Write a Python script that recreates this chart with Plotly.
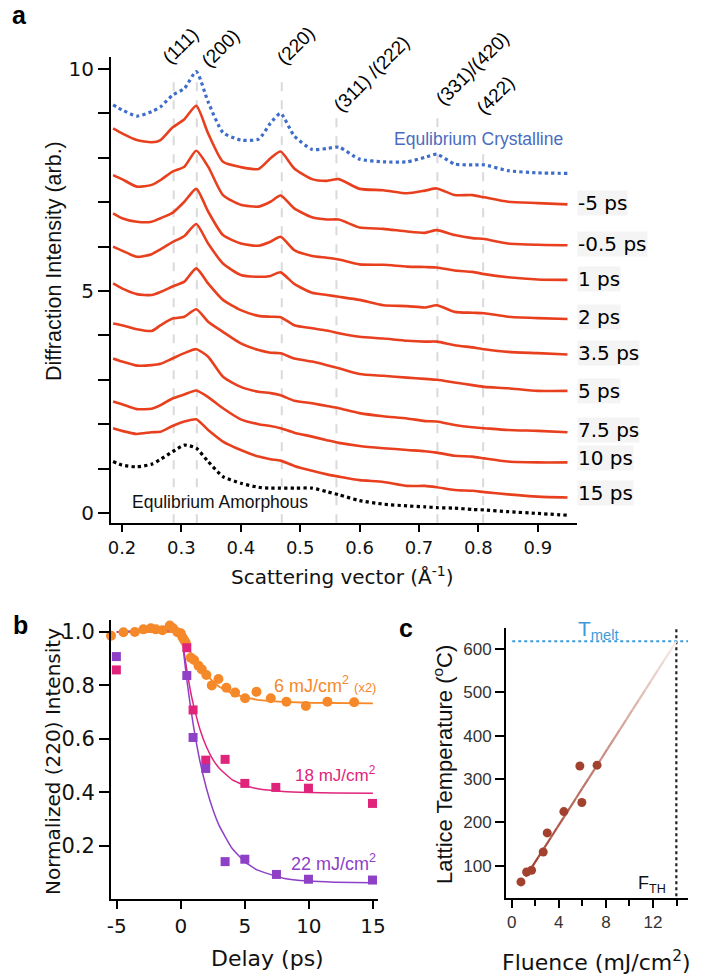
import numpy as np
import plotly.graph_objects as go

# ---------------- Panel a data ----------------
q = [0.185, 0.20, 0.225, 0.25, 0.265, 0.285, 0.305, 0.325, 0.345, 0.37, 0.40, 0.43, 0.45, 0.467,
     0.49, 0.52, 0.545, 0.565, 0.60, 0.64, 0.68, 0.71, 0.73, 0.76, 0.79, 0.81, 0.85, 0.90, 0.95]
crystalline = [9.19, 9.08, 8.94, 9.04, 9.15, 9.41, 9.56, 9.94, 9.26, 8.57, 8.40, 8.42, 8.78, 9.00,
               8.49, 8.19, 8.21, 8.24, 7.97, 7.91, 7.91, 8.01, 8.08, 7.86, 7.84, 7.84, 7.71, 7.66, 7.65]
c_m5 = [8.66, 8.55, 8.40, 8.35, 8.40, 8.68, 8.87, 9.17, 8.55, 7.91, 7.79, 7.75, 7.99, 8.14,
        7.76, 7.52, 7.48, 7.52, 7.30, 7.27, 7.20, 7.26, 7.31, 7.16, 7.16, 7.11, 7.01, 6.98, 6.95]
c_m05 = [7.61, 7.52, 7.35, 7.39, 7.50, 7.69, 7.80, 8.16, 7.80, 7.16, 6.94, 6.90, 7.01, 7.15,
         6.86, 6.66, 6.61, 6.61, 6.43, 6.40, 6.34, 6.31, 6.37, 6.26, 6.19, 6.17, 6.07, 6.04, 6.03]
c_1 = [6.75, 6.64, 6.56, 6.56, 6.64, 6.76, 7.01, 7.30, 6.79, 6.26, 6.07, 6.02, 6.11, 6.22,
       5.92, 5.79, 5.75, 5.71, 5.60, 5.59, 5.55, 5.54, 5.53, 5.46, 5.43, 5.38, 5.31, 5.26, 5.25]
c_2 = [6.00, 5.91, 5.77, 5.83, 5.94, 6.10, 6.24, 6.51, 6.07, 5.62, 5.36, 5.32, 5.34, 5.42,
       5.16, 4.96, 4.91, 4.87, 4.80, 4.68, 4.66, 4.63, 4.68, 4.53, 4.51, 4.50, 4.42, 4.39, 4.37]
c_35 = [5.17, 5.06, 4.93, 4.91, 4.98, 5.10, 5.21, 5.51, 5.17, 4.80, 4.57, 4.44, 4.42, 4.41,
        4.23, 4.16, 4.11, 4.05, 3.97, 3.93, 3.88, 3.86, 3.86, 3.78, 3.73, 3.69, 3.63, 3.60, 3.57]
c_5 = [4.27, 4.23, 4.14, 4.10, 4.23, 4.38, 4.42, 4.59, 4.31, 4.08, 3.82, 3.67, 3.61, 3.60,
       3.48, 3.41, 3.33, 3.26, 3.13, 3.09, 3.05, 3.02, 3.00, 2.94, 2.88, 2.84, 2.81, 2.75, 2.75]
c_75 = [3.48, 3.41, 3.32, 3.33, 3.36, 3.48, 3.60, 3.69, 3.52, 3.07, 2.84, 2.73, 2.70, 2.65,
        2.53, 2.47, 2.41, 2.36, 2.25, 2.18, 2.13, 2.07, 2.06, 1.98, 1.93, 1.91, 1.87, 1.85, 1.82]
c_10 = [2.51, 2.45, 2.34, 2.35, 2.43, 2.58, 2.67, 2.76, 2.61, 2.36, 2.11, 2.00, 1.96, 1.91,
        1.81, 1.72, 1.64, 1.58, 1.51, 1.46, 1.42, 1.39, 1.36, 1.29, 1.27, 1.23, 1.16, 1.14, 1.14]
c_15 = [1.91, 1.85, 1.78, 1.82, 1.83, 1.96, 2.06, 2.11, 1.87, 1.61, 1.42, 1.27, 1.21, 1.18,
        1.06, 0.95, 0.87, 0.82, 0.74, 0.70, 0.61, 0.61, 0.58, 0.52, 0.50, 0.47, 0.42, 0.37, 0.35]
amorphous = [1.16, 1.08, 1.04, 1.10, 1.21, 1.38, 1.53, 1.46, 1.16, 0.82, 0.67, 0.58, 0.56, 0.56,
             0.56, 0.56, 0.48, 0.41, 0.28, 0.20, 0.16, 0.14, 0.12, 0.11, 0.08, 0.07, 0.03, -0.01, -0.05]
delay_curves = [c_m5, c_m05, c_1, c_2, c_35, c_5, c_75, c_10, c_15]
delay_labels = ["-5 ps", "-0.5 ps", "1 ps", "2 ps", "3.5 ps", "5 ps", "7.5 ps", "10 ps", "15 ps"]
delay_label_y = [6.98, 6.05, 5.26, 4.41, 3.60, 2.75, 1.87, 1.24, 0.45]

peak_names = ["(111)", "(200)", "(220)", "(311) /(222)", "(331)/(420)", "(422)"]
peak_q = [0.287, 0.326, 0.469, 0.561, 0.731, 0.808]
peak_line_top = [9.91, 9.91, 9.84, 8.90, 8.92, 8.69]
peak_label_px = [(181, 46), (220, 48), (296, 46), (372, 74), (472, 68), (495, 95)]

# ---------------- Panel b data ----------------
t_6 = [-5.45, -4.48, -3.59, -2.92, -2.34, -1.95, -1.43, -0.86, -0.6, -0.26, 0.0, 0.13, 0.26, 0.39,
       0.78, 1.04, 1.38, 1.64, 2.0, 2.42, 2.94, 3.56, 4.24, 5.02, 5.91, 7.03, 8.25, 9.77, 11.45, 13.54]
I_6 = [0.986, 0.999, 1.0, 1.01, 1.014, 1.01, 1.007, 1.024, 1.014, 0.999, 0.995, 0.98, 0.97, 0.96,
       0.904, 0.895, 0.874, 0.86, 0.839, 0.80, 0.824, 0.791, 0.773, 0.752, 0.776, 0.752, 0.739,
       0.723, 0.739, 0.737]
t_18 = [-5.03, 0.47, 0.96, 1.95, 3.46, 5.0, 7.42, 9.97, 14.97]
I_18 = [0.858, 0.941, 0.708, 0.52, 0.523, 0.433, 0.418, 0.415, 0.358]
t_22 = [-5.03, 0.47, 0.96, 1.95, 3.46, 5.0, 7.47, 9.97, 14.97]
I_22 = [0.908, 0.837, 0.605, 0.489, 0.14, 0.149, 0.092, 0.074, 0.071]

fit6_t = [-5, -0.15, 0.2, 0.5, 1, 1.5, 2, 2.5, 3, 4, 5, 6, 7, 8, 10, 12, 15]
fit6_I = [1.0, 1.0, 0.975, 0.945, 0.905, 0.87, 0.84, 0.815, 0.795, 0.77, 0.755, 0.746, 0.741,
          0.738, 0.735, 0.734, 0.733]
fit_t = [-5, 0.05, 0.25, 0.5, 0.75, 1, 1.5, 2, 2.5, 3, 4, 5, 6, 8, 10, 12, 15]
fit18_I = [1.0, 1.0, 0.927, 0.85, 0.78, 0.725, 0.635, 0.57, 0.523, 0.49, 0.447, 0.425, 0.413,
           0.403, 0.399, 0.397, 0.396]
fit22_I = [1.0, 1.0, 0.911, 0.811, 0.723, 0.645, 0.515, 0.415, 0.336, 0.275, 0.19, 0.139, 0.108,
           0.078, 0.067, 0.063, 0.061]
delay_ticks = [-5, 0, 5, 10, 15]
delay_ticktext = ["-5", "0", "5", "10", "15"]

# ---------------- Panel c data ----------------
fluence = [0.79, 1.27, 1.69, 2.68, 3.02, 4.43, 5.79, 5.96, 7.25]
lattice_T = [63, 86, 90, 132, 176, 225, 330, 246, 332]
fit_line_F = [1.2, 13.98]
fit_line_T = [75, 617.5]
T_melt = 617.5
F_TH = 13.98

W, H = 712, 976
RED = "#E8401E"
BLUE = "#3F6DCB"
ORANGE = "#F5892A"
PINK = "#E0247B"
PURPLE = "#8E40C6"
BROWN = "#A3412F"


def px(x):
    return x / W


def py(y):
    return 1 - y / H


fig = go.Figure()

# Panel a traces
fig.add_trace(go.Scatter(x=q, y=crystalline, mode="lines",
                         line=dict(color=BLUE, width=3.2, dash="dot", shape="spline", smoothing=0.6),
                         xaxis="x", yaxis="y", hoverinfo="skip"))
for c in delay_curves:
    fig.add_trace(go.Scatter(x=q, y=c, mode="lines", line=dict(color=RED, width=2.6, shape="spline", smoothing=0.6),
                             xaxis="x", yaxis="y", hoverinfo="skip"))
fig.add_trace(go.Scatter(x=q, y=amorphous, mode="lines",
                         line=dict(color="black", width=3.2, dash="dot", shape="spline", smoothing=0.6),
                         xaxis="x", yaxis="y", hoverinfo="skip"))

shapes = []
for xq, top in zip(peak_q, peak_line_top):
    shapes.append(dict(type="line", xref="x", yref="y", x0=xq, x1=xq, y0=-0.23, y1=top,
                       line=dict(color="#DADADA", width=2, dash="dash"), layer="below"))

# Panel b traces
fig.add_trace(go.Scatter(x=fit6_t, y=fit6_I, mode="lines", line=dict(color=ORANGE, width=1.8),
                         xaxis="x2", yaxis="y2", hoverinfo="skip"))
fig.add_trace(go.Scatter(x=fit_t, y=fit18_I, mode="lines",
                         line=dict(color=PINK, width=1.5, shape="spline", smoothing=0.4),
                         xaxis="x2", yaxis="y2", hoverinfo="skip"))
fig.add_trace(go.Scatter(x=fit_t, y=fit22_I, mode="lines",
                         line=dict(color=PURPLE, width=1.5, shape="spline", smoothing=0.4),
                         xaxis="x2", yaxis="y2", hoverinfo="skip"))
fig.add_trace(go.Scatter(x=t_6, y=I_6, mode="markers", marker=dict(color=ORANGE, size=10, symbol="circle"),
                         xaxis="x2", yaxis="y2", cliponaxis=False, hoverinfo="skip"))
fig.add_trace(go.Scatter(x=t_18, y=I_18, mode="markers", marker=dict(color=PINK, size=9, symbol="square"),
                         xaxis="x2", yaxis="y2", cliponaxis=False, hoverinfo="skip"))
fig.add_trace(go.Scatter(x=t_22, y=I_22, mode="markers", marker=dict(color=PURPLE, size=9, symbol="square"),
                         xaxis="x2", yaxis="y2", cliponaxis=False, hoverinfo="skip"))

# Panel c traces
fig.add_trace(go.Scatter(x=[0.05, 14.97], y=[T_melt, T_melt], mode="lines",
                         line=dict(color="#3D9BD8", width=2.2, dash="dot"), xaxis="x3", yaxis="y3",
                         cliponaxis=False, hoverinfo="skip"))
fig.add_trace(go.Scatter(x=[F_TH, F_TH], y=[30, 652], mode="lines",
                         line=dict(color="#222222", width=2.2, dash="dot"), xaxis="x3", yaxis="y3",
                         cliponaxis=False, hoverinfo="skip"))
# fading fit line drawn as short segments
nseg = 24
fF = np.linspace(fit_line_F[0], fit_line_F[1], nseg + 1)
fT = np.linspace(fit_line_T[0], fit_line_T[1], nseg + 1)
c0 = np.array([163, 65, 47])
c1 = np.array([246, 232, 229])
for i in range(nseg):
    f = (i / (nseg - 1)) ** 1.2
    col = c0 + (c1 - c0) * f
    fig.add_trace(go.Scatter(x=[fF[i], fF[i + 1]], y=[fT[i], fT[i + 1]], mode="lines",
                             line=dict(color="rgb(%d,%d,%d)" % tuple(col.astype(int)), width=2.2),
                             xaxis="x3", yaxis="y3", hoverinfo="skip"))
fig.add_trace(go.Scatter(x=fluence, y=lattice_T, mode="markers", marker=dict(color=BROWN, size=9),
                         xaxis="x3", yaxis="y3", hoverinfo="skip"))

ann = []
# Panel labels
for lab, x, y in [("a", 19, 15), ("b", 20, 625), ("c", 406, 628)]:
    ann.append(dict(text="<b>%s</b>" % lab, x=px(x), y=py(y), xref="paper", yref="paper", showarrow=False,
                    font=dict(family="Liberation Sans", size=25, color="black"),
                    xanchor="center", yanchor="middle"))

# Peak labels
for name, (lx, ly) in zip(peak_names, peak_label_px):
    ann.append(dict(text=name, x=px(lx), y=py(ly), xref="paper", yref="paper", showarrow=False, textangle=-45,
                    font=dict(family="Liberation Sans", size=19, color="black"),
                    xanchor="center", yanchor="middle"))

# delay labels
for lab, yv in zip(delay_labels, delay_label_y):
    ann.append(dict(text=lab, x=px(577), y=yv, xref="paper", yref="y", showarrow=False, xanchor="left",
                    yanchor="middle", bgcolor="#F4F4F4", borderpad=0,
                    font=dict(family="DejaVu Sans", size=20, color="black")))

ann.append(dict(text="Equlibrium Crystalline", x=px(478), y=py(139), xref="paper", yref="paper",
                showarrow=False, xanchor="center", yanchor="middle",
                font=dict(family="Liberation Sans", size=17.5, color="#4A6CC0"), bgcolor="white", borderpad=1))
ann.append(dict(text="Equlibrium Amorphous", x=px(220), y=py(502), xref="paper", yref="paper",
                showarrow=False, xanchor="center", yanchor="middle",
                font=dict(family="Liberation Sans", size=17.5, color="#111111"), bgcolor="white", borderpad=1))

# axis titles panel a
ann.append(dict(text="Diffraction Intensity (arb.)", x=px(54), y=py(261), xref="paper", yref="paper",
                showarrow=False, textangle=-90, xanchor="center", yanchor="middle",
                font=dict(family="Liberation Sans", size=21.5, color="#111111")))
ann.append(dict(text="Scattering vector (Å<sup>-1</sup>)", x=px(342), y=py(576), xref="paper", yref="paper",
                showarrow=False, xanchor="center", yanchor="middle",
                font=dict(family="DejaVu Sans", size=20, color="#111111")))
# panel b annotations
ann.append(dict(text="6 mJ/cm<sup>2</sup> <span style='font-size:13px'>(x2)</span>", x=px(378), y=py(684),
                xref="paper", yref="paper", showarrow=False, xanchor="right", yanchor="middle",
                font=dict(family="Liberation Sans", size=18, color=ORANGE)))
ann.append(dict(text="18 mJ/cm<sup>2</sup>", x=px(378), y=py(774), xref="paper", yref="paper", showarrow=False,
                xanchor="right", yanchor="middle", font=dict(family="Liberation Sans", size=17, color=PINK)))
ann.append(dict(text="22 mJ/cm<sup>2</sup>", x=px(378), y=py(862), xref="paper", yref="paper", showarrow=False,
                xanchor="right", yanchor="middle", font=dict(family="Liberation Sans", size=18, color=PURPLE)))
ann.append(dict(text="Normalized (220) Intensity", x=px(53), y=py(762), xref="paper", yref="paper",
                showarrow=False, textangle=-90, xanchor="center", yanchor="middle",
                font=dict(family="DejaVu Sans", size=20, color="#111111")))
ann.append(dict(text="Delay (ps)", x=px(267), y=py(958), xref="paper", yref="paper", showarrow=False,
                xanchor="center", yanchor="middle",
                font=dict(family="DejaVu Sans", size=22, color="#111111")))
# panel c annotations
ann.append(dict(text="T<sub>melt</sub>", x=px(598), y=py(630), xref="paper", yref="paper", showarrow=False,
                xanchor="center", yanchor="middle",
                font=dict(family="Liberation Sans", size=21, color="#3D9BD8")))
ann.append(dict(text="F<sub>TH</sub>", x=px(652), y=py(884), xref="paper", yref="paper", showarrow=False,
                xanchor="center", yanchor="middle",
                font=dict(family="Liberation Sans", size=18, color="#111111")))
ann.append(dict(text="Lattice Temperature (<sup>o</sup>C)", x=px(443), y=py(765), xref="paper", yref="paper",
                showarrow=False, textangle=-90, xanchor="center", yanchor="middle",
                font=dict(family="Liberation Sans", size=22, color="#111111")))
ann.append(dict(text="Fluence (mJ/cm<sup>2</sup>)", x=px(596), y=py(961), xref="paper", yref="paper",
                showarrow=False, xanchor="center", yanchor="middle",
                font=dict(family="DejaVu Sans", size=22, color="#111111")))

axis_common = dict(showline=True, linecolor="black", linewidth=2, showgrid=False, zeroline=False,
                   ticks="outside", tickcolor="black", tickwidth=2, mirror=False, automargin=False)

fig.update_layout(
    template="none",
    width=W, height=H, margin=dict(l=0, r=0, t=0, b=0, autoexpand=False), paper_bgcolor="white",
    plot_bgcolor="white", showlegend=False, shapes=shapes, annotations=ann,
    xaxis=dict(axis_common, domain=[px(111), px(577)], anchor="y", range=[0.1815, 0.966],
               tickmode="array", tickvals=[0.2, 0.3, 0.4, 0.5, 0.6, 0.7, 0.8, 0.9],
               ticktext=["0.2", "0.3", "0.4", "0.5", "0.6", "0.7", "0.8", "0.9"], ticklen=7,
               tickfont=dict(family="DejaVu Sans", size=18, color="#111111")),
    yaxis=dict(axis_common, domain=[py(523), py(57)], anchor="x", range=[-0.225, 10.27],
               tickmode="array", tickvals=[0, 5, 10], ticktext=["0", "5", "10"], ticklen=11,
               minor=dict(tickvals=[1, 2, 3, 4, 6, 7, 8, 9], ticks="outside", ticklen=11, tickwidth=2,
                          tickcolor="black", showgrid=False),
               tickfont=dict(family="DejaVu Sans", size=20, color="#111111")),
    xaxis2=dict(axis_common, domain=[px(111), px(378)], anchor="y2", range=[-5.45, 15.4],
                tickmode="array", tickvals=delay_ticks, ticktext=delay_ticktext, ticklen=8,
                tickfont=dict(family="DejaVu Sans", size=20, color="#111111")),
    yaxis2=dict(axis_common, domain=[py(899), py(620)], anchor="x2", range=[0.0, 1.045],
                tickmode="array", tickvals=[0.2, 0.4, 0.6, 0.8, 1.0],
                ticktext=["0.2", "0.4", "0.6", "0.8", "1.0"], ticklen=10,
                tickfont=dict(family="DejaVu Sans", size=21, color="#111111")),
    xaxis3=dict(axis_common, domain=[px(506), px(688)], anchor="y3", range=[-0.48, 14.97],
                tickmode="array", tickvals=[0, 4, 8, 12], ticklen=8,
                minor=dict(tickvals=[2, 6, 10, 14], ticks="outside", ticklen=6, tickwidth=2, tickcolor="black",
                           showgrid=False),
                tickfont=dict(family="Liberation Sans", size=17, color="#333333")),
    yaxis3=dict(axis_common, domain=[py(898), py(628)], anchor="x3", range=[26, 648],
                tickmode="array", tickvals=[100, 200, 300, 400, 500, 600], ticklen=9,
                tickfont=dict(family="Liberation Sans", size=17, color="#333333")),
)

fig.write_html("out.html", config={"displayModeBar": False},
               post_script="document.body.style.margin='0px';document.body.style.overflow='hidden';")
